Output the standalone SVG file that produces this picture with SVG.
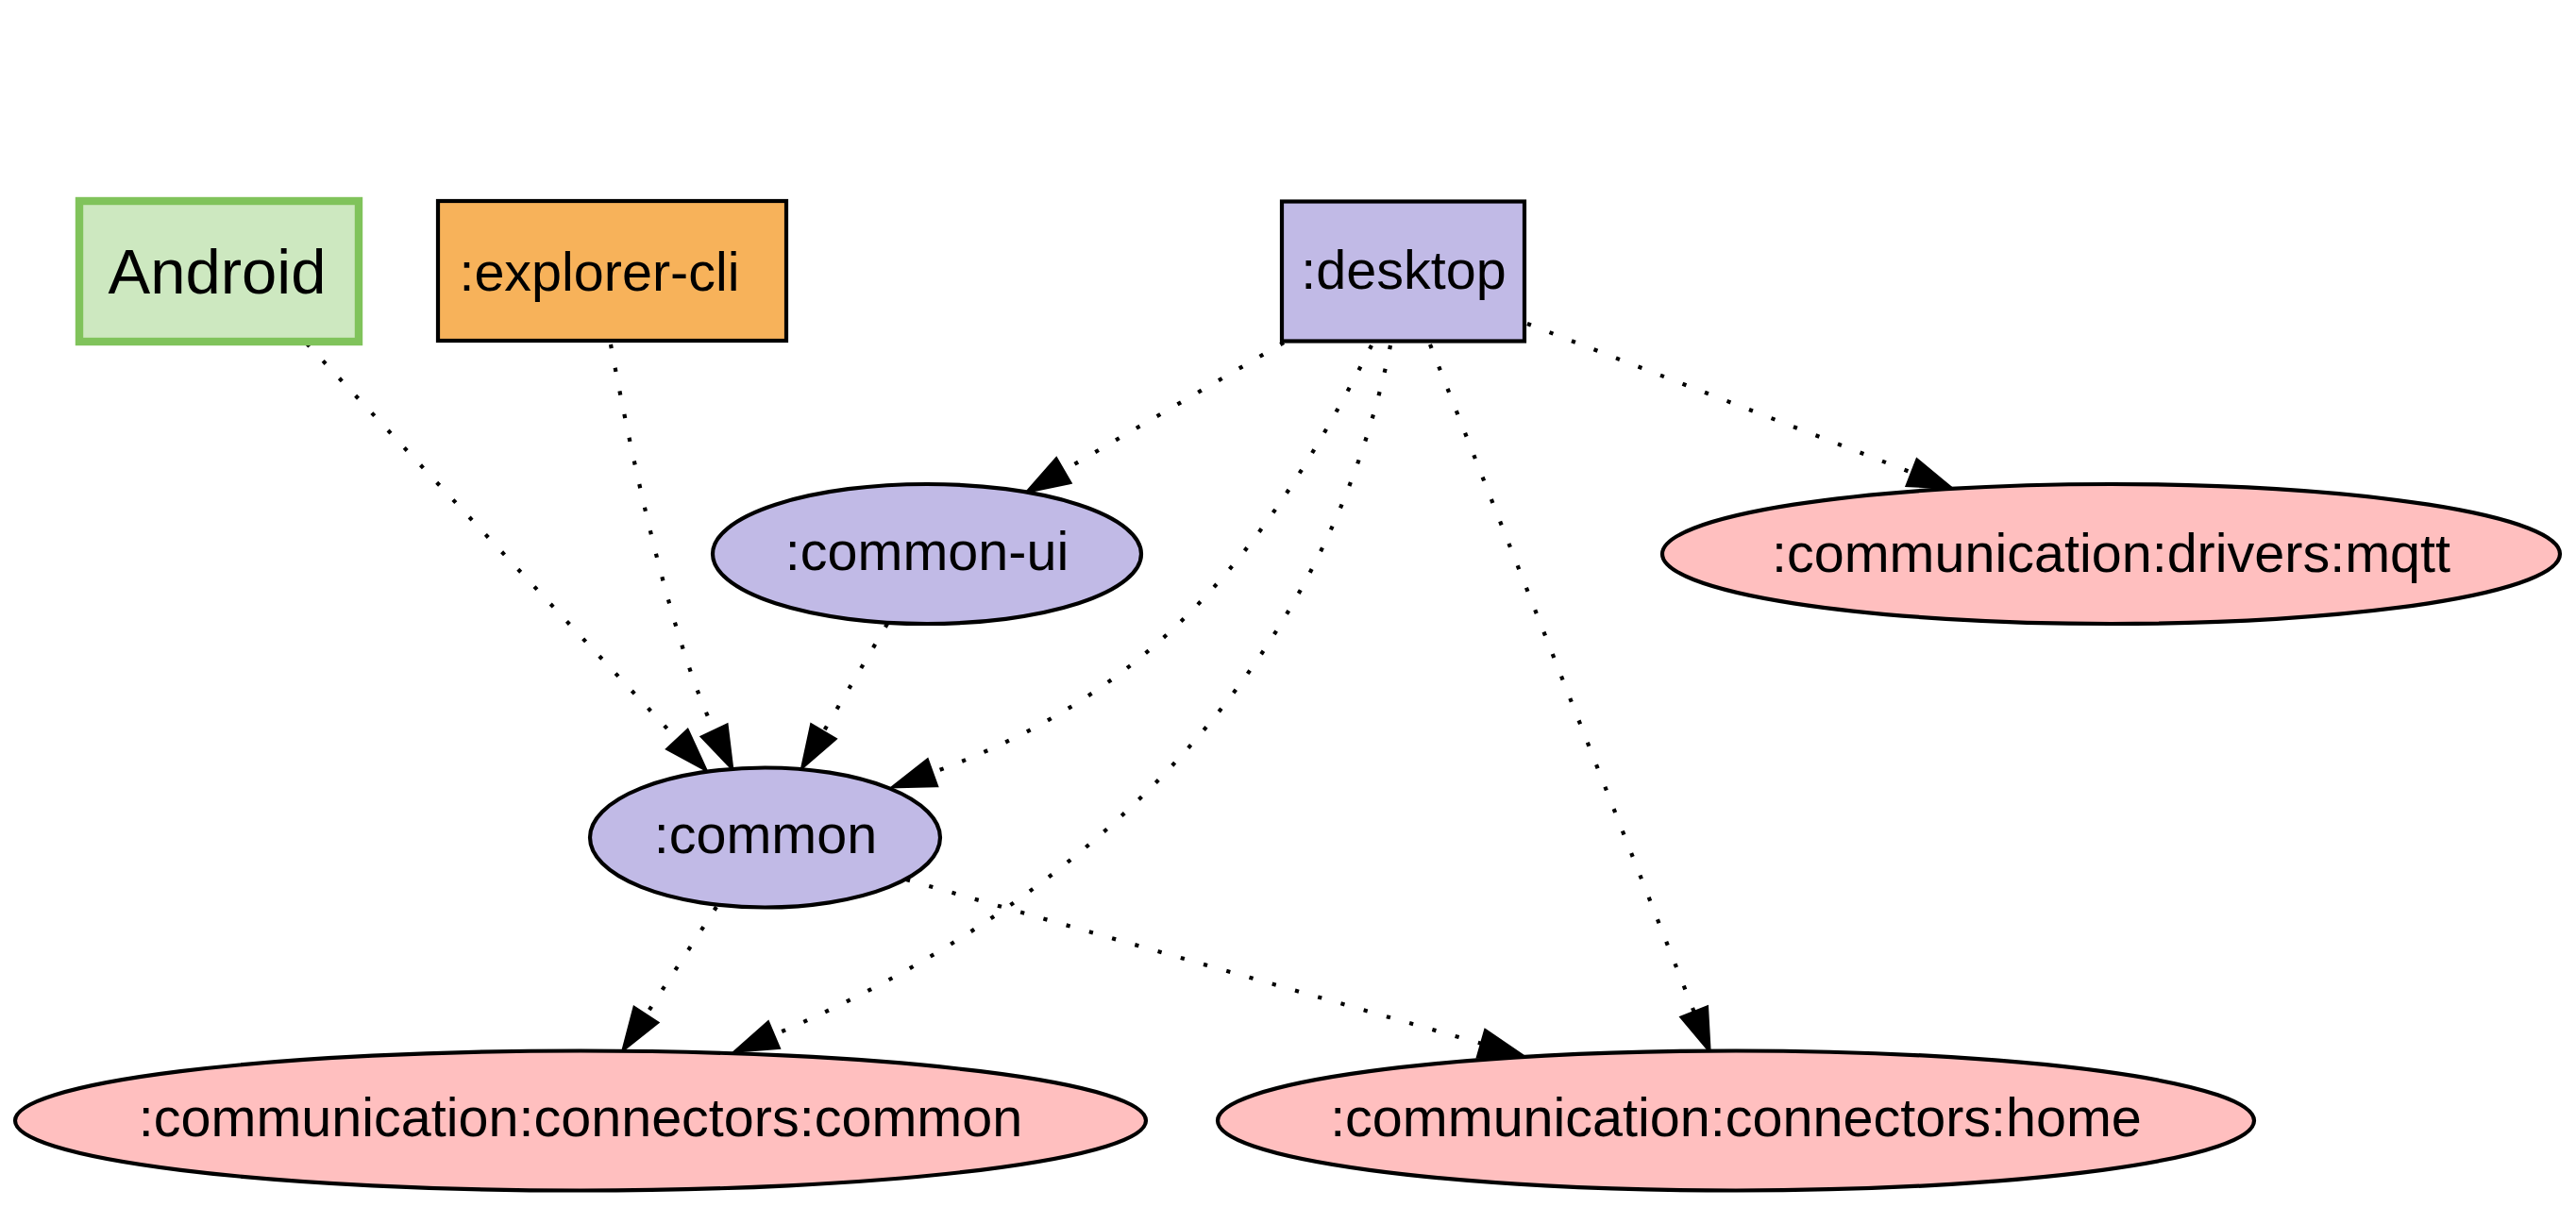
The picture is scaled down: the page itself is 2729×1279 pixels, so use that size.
<svg xmlns="http://www.w3.org/2000/svg" width="2729" height="1279" viewBox="0 0 2729 1279">
<style>
.bg{fill:#ffffff}
.lbl{font-family:"Liberation Sans",Arial,Helvetica,sans-serif;font-size:57.5px;fill:#000000;text-anchor:middle}
.big{font-size:67px}
.box{stroke:#000000;stroke-width:4.2}
.ell{stroke:#000000;stroke-width:4.2}
.lav{fill:#c1bae6}
.pink{fill:#ffbfbf}
.edge{fill:none;stroke:#000000;stroke-width:4.2;stroke-dasharray:4.2 21;marker-end:url(#arr)}
</style>
<defs>
<marker id="arr" markerUnits="userSpaceOnUse" markerWidth="60" markerHeight="40" refX="0" refY="0" viewBox="-5 -20 60 40" orient="auto" overflow="visible">
<path d="M0,-14 L42,0 L0,14 Z" fill="#000000" stroke="#000000" stroke-width="4.2" stroke-linejoin="miter"/>
</marker>
</defs>
<rect class="bg" x="0" y="0" width="2729" height="1279"/>
<g id="connectors">
<path class="edge" d="M325,364 L718,784"/>
<path class="edge" d="M647,365 C672,500 712,680 757,775"/>
<path class="edge" d="M1360,363 L1126,499"/>
<path class="edge" d="M1453,366 C1340,589 1220,735 987,819"/>
<path class="edge" d="M1473,366 C1402.5,711.5 1153.5,955 819,1097"/>
<path class="edge" d="M1515,365 L1795,1073"/>
<path class="edge" d="M1618,343 L2026,501"/>
<path class="edge" d="M940,661 L872,776"/>
<path class="edge" d="M759,961 L684,1076"/>
<path class="edge" d="M960,932 L1570,1106"/>
</g>
<g id="node-android">
<rect x="84" y="213" width="296" height="149" fill="#cde8c0" stroke="#80c35b" stroke-width="8.4"/>
<text class="lbl big" x="230" y="311">Android</text>
</g>
<g id="node-explorer-cli">
<rect class="box" x="464" y="213" width="369" height="148" fill="#f7b25a"/>
<text class="lbl" x="635" y="308">:explorer-cli</text>
</g>
<g id="node-desktop">
<rect class="box lav" x="1358" y="213.5" width="257" height="148"/>
<text class="lbl" x="1487" y="306">:desktop</text>
</g>
<g id="node-common-ui">
<ellipse class="ell lav" cx="982" cy="587" rx="227" ry="74"/>
<text class="lbl" x="982" y="604">:common-ui</text>
</g>
<g id="node-drivers-mqtt">
<ellipse class="ell pink" cx="2236.5" cy="587" rx="475.5" ry="74"/>
<text class="lbl" x="2236.5" y="606">:communication:drivers:mqtt</text>
</g>
<g id="node-common">
<ellipse class="ell lav" cx="810.5" cy="887.5" rx="185.5" ry="74"/>
<text class="lbl" x="811" y="904">:common</text>
</g>
<g id="node-connectors-common">
<ellipse class="ell pink" cx="615" cy="1187.5" rx="599" ry="74"/>
<text class="lbl" x="615" y="1204">:communication:connectors:common</text>
</g>
<g id="node-connectors-home">
<ellipse class="ell pink" cx="1839" cy="1187.5" rx="549" ry="74"/>
<text class="lbl" x="1839" y="1204">:communication:connectors:home</text>
</g>
</svg>
